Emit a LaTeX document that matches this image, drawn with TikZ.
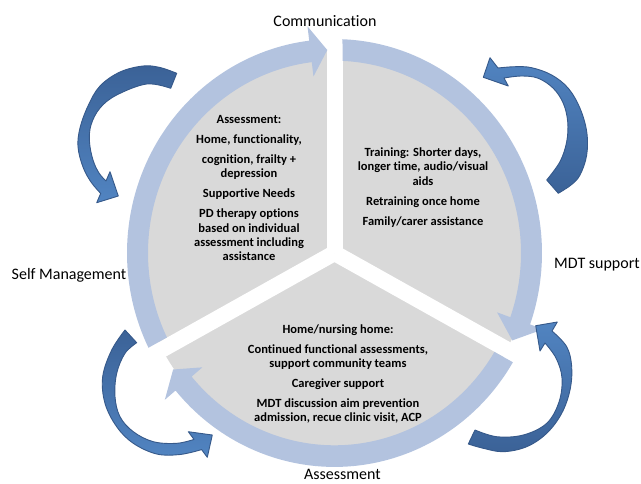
\documentclass[tikz,border=0pt]{standalone}
\usepackage{fontspec}
\setmainfont{Carlito}[Ligatures=NoCommon]
\definecolor{ringblue}{HTML}{B3C3DF}
\definecolor{piegray}{HTML}{D9D9D9}
\definecolor{arrowdark}{HTML}{3B6297}
\definecolor{arrowlight}{HTML}{5184C1}
\definecolor{arrowedge}{HTML}{36598A}
\begin{document}
\begin{tikzpicture}[x=1pt,y=-1pt,
  curvedarrow/.style={draw=arrowedge,line width=0.9pt,line join=round},
  bodytext/.style={font=\fontsize{12.5}{14.2}\selectfont\bfseries,align=center,inner sep=0pt},
  phaselabel/.style={font=\fontsize{16}{19}\selectfont,inner sep=0pt}]
\useasboundingbox (0,0) rectangle (641,483);

% segmented disc with the cycle ring
\begin{scope}[shift={(334.5,253)},yscale=-1.031]
  \fill[piegray] (0,0) circle[radius=196];
  \foreach \g in {90,208.5,-28.5}
    \draw[white,line width=16pt] (0,0) -- (\g:205);
  % left arc, ends at the top
  \fill[ringblue] (206.29:207.5) arc[start angle=206.29,end angle=97,radius=207.5]
    -- (97:221.5) -- (92.1:197) -- (97:172.5) -- (97:186.5)
    arc[start angle=97,end angle=206.04,radius=186.5] -- cycle;
  % right arc, ends at the lower right
  \fill[ringblue] (87.79:207.5) arc[start angle=87.79,end angle=-19.5,radius=207.5]
    -- (-19.5:221.5) -- (-25.5:197) -- (-19.5:172.5) -- (-19.5:186.5)
    arc[start angle=-19.5,end angle=87.54,radius=186.5] -- cycle;
  % bottom arc, ends at the lower left
  \fill[ringblue] (-30.71:207.5) arc[start angle=-30.71,end angle=-140,radius=207.5]
    -- (-140:221.5) -- (-145:197) -- (-140:172.5) -- (-140:186.5)
    arc[start angle=-140,end angle=-30.96,radius=186.5] -- cycle;
\end{scope}

% curved arrows outside the ring
\path[curvedarrow,top color=arrowdark,bottom color=arrowlight]
  plot[smooth,tension=0.6] coordinates {(176.7,73.3) (160,67.5) (143,66) (120,72) (100,86) (88,106) (80,128) (78,147) (83,167) (91,182) (100.7,193.4)}
  -- (96.7,202.7) -- (118.3,196) -- (110,171.7)
  -- plot[smooth,tension=0.6] coordinates {(106,181) (99,173) (93,160) (89.5,142) (91,125) (100,108) (116.7,95) (146.7,84) (170.7,88.3)}
  -- cycle;
\path[curvedarrow,top color=arrowlight,bottom color=arrowdark]
  plot[smooth,tension=0.6] coordinates {(558.3,193.3) (571,185) (580,175) (586.7,155) (586.7,131.7) (580,108.3) (568.3,88.3) (551.7,75) (531.7,67.7) (515,66.7) (498,68)}
  -- (490,57.7) -- (483.3,77.3) -- (508.3,86)
  -- plot[smooth,tension=0.6] coordinates {(504,78) (521.7,76) (538.3,78.3) (553.3,88.3) (563.3,103.3) (567.7,121.7) (566.7,141.7) (560,161.7) (546.7,180)}
  -- cycle;
\path[curvedarrow,top color=arrowlight,bottom color=arrowdark]
  plot[smooth,tension=0.6] coordinates {(468.3,444) (483.3,448.3) (503.3,451.7) (526.7,446.7) (546.7,433.3) (561.7,413.3) (570,390) (571.7,366.7) (566.7,346.7) (552,331)}
  -- (557.3,322) -- (535.7,325.7) -- (540,351)
  -- plot[smooth,tension=0.6] coordinates {(545,343) (556,358) (562,378) (559,402) (546.7,423.3) (523.3,435) (496.7,436.7) (475,430)}
  -- cycle;
\path[curvedarrow,top color=arrowdark,bottom color=arrowlight]
  plot[smooth,tension=0.6] coordinates {(125,330) (111.7,350) (102.7,376.7) (105,403.3) (116.7,426.7) (133.3,443.3) (156.7,454) (180,454.5) (201.6,449.6)}
  -- (207.3,457.3) -- (212.3,435) -- (188.3,431.7)
  -- plot[smooth,tension=0.6] coordinates {(194,439.4) (176.7,443.3) (153.3,441.7) (133.3,431.7) (120,416.7) (115,396.7) (116.7,373.3) (125,353.3) (136.7,342.7)}
  -- cycle;

% texts inside the three segments
\node[bodytext] (assess) at (249,188) {Assessment:\\[5.8pt]Home, functionality,\\[5.8pt]cognition, frailty +\\depression\\[5.8pt]Supportive Needs\\[5.8pt]PD therapy options\\based on individual\\assessment including\\assistance};
\node[bodytext] (train) at (423,187.5) {Training: Shorter days,\\longer time, audio/visual\\aids\\[5.8pt]Retraining once home\\[5.8pt]Family/carer assistance};
\node[bodytext] (home) at (338,374) {Home/nursing home:\\[5.8pt]Continued functional assessments,\\support community teams\\[5.8pt]Caregiver support\\[5.8pt]MDT discussion aim prevention\\admission, recue clinic visit, ACP};

% labels round the cycle
\node[phaselabel] (comm) at (325,21) {Communication};
\node[phaselabel] (mdt) at (597,265) {MDT support};
\node[phaselabel] (self) at (69,275) {Self Management};
\node[phaselabel] (assesslabel) at (342.5,474.5) {Assessment};
\end{tikzpicture}
\end{document}
